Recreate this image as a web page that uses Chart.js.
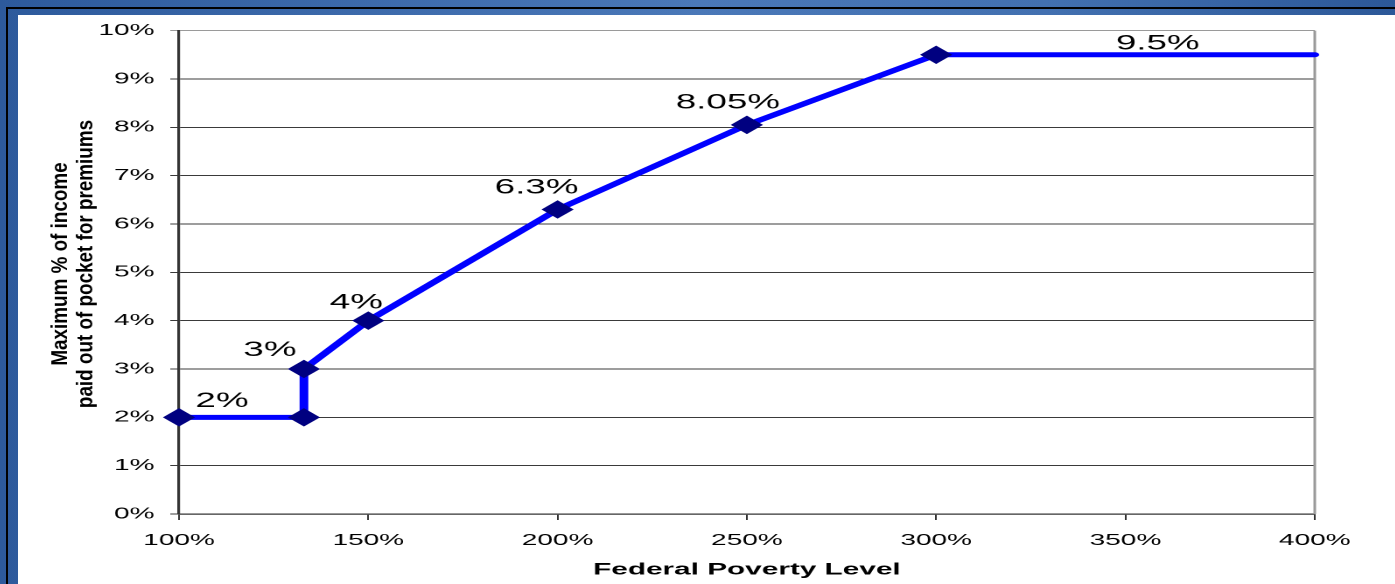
<!DOCTYPE html>
<html>
<head>
<meta charset="utf-8">
<title>Federal Poverty Level premium cap</title>
<script src="https://cdn.jsdelivr.net/npm/chart.js@4.4.1/dist/chart.umd.min.js"></script>
<style>
    html, body { margin: 0; padding: 0; }
    body {
        width: 1395px; height: 584px; overflow: hidden; position: relative;
        background: linear-gradient(to right, #2d5a9c 0%, #4a78b8 50%, #4270b0 75%, #2c5898 100%);
    }
    #rule { position: absolute; left: 6px; top: 7px; right: 0; bottom: 0; border-left: 2px solid #000; border-top: 2px solid #000; }
    #sheet { position: absolute; left: 18px; top: 15px; width: 1377px; height: 569px; background: #fff; overflow: hidden; }
    /* the slide was stretched sideways, so the chart is drawn narrow and widened */
    #stretch { position: absolute; left: 0; top: -3px; width: 787px; height: 572px; transform: scaleX(1.75); transform-origin: 0 0; }
</style>
</head>
<body>
<div id="rule"></div>
<div id="sheet">
    <div id="stretch"><canvas id="fplChart" width="787" height="572"></canvas></div>
</div>
<script>
// data
const fplLevels = [100, 133, 133, 150, 200, 250, 300, 400];
const maxPremiumPct = [2, 2, 3, 4, 6.3, 8.05, 9.5, 9.5];
const pointLabels = ['2%', '', '3%', '4%', '6.3%', '8.05%', '', '9.5%'];
const xTickValues = [100, 150, 200, 250, 300, 350, 400];
const yTickValues = [0, 1, 2, 3, 4, 5, 6, 7, 8, 9, 10];
const xTitle = 'Federal Poverty Level';
const yTitleLines = ['Maximum % of income', 'paid out of pocket for premiums'];

const STRETCH = 1.75;
const FONT = '"Liberation Sans", Arial, Helvetica, sans-serif';

const slidePlugin = {
    id: 'slide',
    beforeDatasetsDraw(chart) {
        // grey frame on the right of the plot
        const { ctx, chartArea } = chart;
        ctx.save();
        ctx.strokeStyle = '#9a9a9a';
        ctx.lineWidth = 1.5;
        ctx.beginPath();
        ctx.moveTo(chartArea.right, chartArea.top);
        ctx.lineTo(chartArea.right, chartArea.bottom);
        ctx.stroke();
        ctx.restore();
    },
    afterDatasetsDraw(chart, args, opts) {
        const { ctx } = chart;
        const meta = chart.getDatasetMeta(0);
        ctx.save();
        ctx.font = '21px ' + FONT;
        ctx.fillStyle = '#000';
        ctx.textAlign = 'center';
        ctx.textBaseline = 'middle';
        pointLabels.forEach((txt, i) => {
            if (!txt) return;
            const pt = meta.data[i];
            const off = opts.offsets[i];
            ctx.fillText(txt, pt.x + off[0] / STRETCH, pt.y + off[1]);
        });
        ctx.restore();
    },
    afterDraw(chart, args, opts) {
        // y title: undo the page stretch and squeeze it like a narrow face
        const { ctx } = chart;
        ctx.save();
        ctx.font = 'bold 23px ' + FONT;
        ctx.fillStyle = '#000';
        ctx.textAlign = 'center';
        ctx.textBaseline = 'middle';
        yTitleLines.forEach((line, i) => {
            ctx.save();
            ctx.translate(opts.titleX[i] / STRETCH, opts.titleCenterY);
            ctx.scale(1 / STRETCH, 1);
            ctx.rotate(-Math.PI / 2);
            ctx.scale(0.82, 1);
            ctx.fillText(line, 0, 0);
            ctx.restore();
        });
        ctx.restore();
    }
};

new Chart(document.getElementById('fplChart'), {
    type: 'line',
    data: {
        datasets: [{
            data: fplLevels.map((x, i) => ({ x: x, y: maxPremiumPct[i] })),
            borderColor: '#0000ff',
            borderWidth: 5,
            borderCapStyle: 'round',
            tension: 0,
            fill: false,
            clip: false,
            pointStyle: 'rectRot',
            pointRadius: ctx => ctx.dataIndex === fplLevels.length - 1 ? 0 : 8.5,
            pointHoverRadius: 0,
            pointBackgroundColor: '#000080',
            pointBorderColor: '#000080',
            pointBorderWidth: 1
        }]
    },
    options: {
        responsive: false,
        animation: false,
        devicePixelRatio: 2,
        layout: { padding: { top: 12, right: 46, left: 0, bottom: 0 } },
        plugins: {
            legend: { display: false },
            tooltip: { enabled: false },
            slide: {
                offsets: [[43, -16], [0, 0], [-34, -19], [-12, -18], [-21, -22], [-19, -22], [0, 0], [-157, -11]],
                titleX: [43, 68],
                titleCenterY: 252
            }
        },
        scales: {
            x: {
                type: 'linear',
                min: 100,
                max: 400,
                afterBuildTicks: scale => { scale.ticks = xTickValues.map(v => ({ value: v })); },
                afterFit: scale => { scale.height = 70; },
                ticks: {
                    callback: v => v + '%',
                    color: '#000',
                    font: { family: FONT, size: 16 },
                    padding: 11,
                    maxRotation: 0,
                    autoSkip: false
                },
                grid: { drawOnChartArea: false, color: '#333', tickLength: 6, lineWidth: 1 },
                border: { color: '#333', width: 1.2 },
                title: {
                    display: true,
                    text: xTitle,
                    color: '#000',
                    font: { family: FONT, size: 17, weight: 'bold' },
                    padding: { top: 0, bottom: 4 }
                }
            },
            y: {
                min: 0,
                max: 10,
                afterBuildTicks: scale => { scale.ticks = yTickValues.map(v => ({ value: v })); },
                afterFit: scale => { scale.width = 92; },
                ticks: {
                    callback: v => v + '%',
                    color: '#000',
                    font: { family: FONT, size: 16 },
                    padding: 9
                },
                grid: {
                    color: ctx => ctx.tick && ctx.tick.value === 10 ? '#9a9a9a' : '#3a3a3a',
                    tickLength: 5,
                    lineWidth: 1
                },
                border: { color: '#333', width: 1.6 }
            }
        }
    },
    plugins: [slidePlugin]
});
</script>
</body>
</html>
